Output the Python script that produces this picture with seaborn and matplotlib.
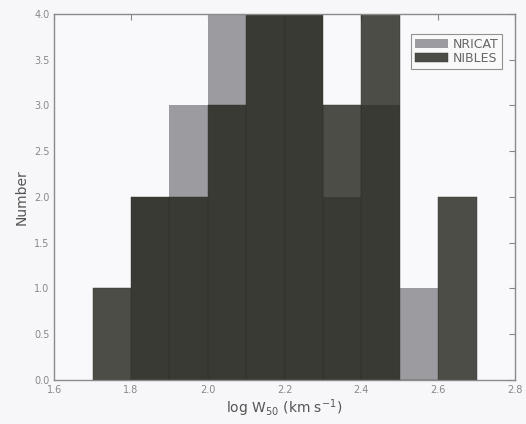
import numpy as np
import pandas as pd
import matplotlib
matplotlib.use("Agg")
import matplotlib.pyplot as plt
import seaborn as sns

# Data (bin centres of log W50 and counts per bin)
bin_edges = [1.7, 1.8, 1.9, 2.0, 2.1, 2.2, 2.3, 2.4, 2.5, 2.6, 2.7]
bin_centres = [1.75, 1.85, 1.95, 2.05, 2.15, 2.25, 2.35, 2.45, 2.55, 2.65]
nricat_counts = [0, 2, 3, 4, 4, 4, 2, 3, 1, 0]
nibles_counts = [1, 2, 2, 3, 4, 4, 3, 4, 0, 2]
series_names = ["NRICAT", "NIBLES"]
x_ticks = [1.6, 1.8, 2.0, 2.2, 2.4, 2.6, 2.8]
x_tick_labels = ["1.6", "1.8", "2.0", "2.2", "2.4", "2.6", "2.8"]
y_ticks = [0.0, 0.5, 1.0, 1.5, 2.0, 2.5, 3.0, 3.5, 4.0]
y_tick_labels = ["0.0", "0.5", "1.0", "1.5", "2.0", "2.5", "3.0", "3.5", "4.0"]

sns.set_style("white")
plt.rcParams['font.family'] = ['DejaVu Sans']

fig = plt.figure(figsize=(5.26, 4.24), dpi=100)
fig.patch.set_facecolor("#f7f7f9")
ax = fig.add_axes([0.103, 0.104, 0.876, 0.863])
ax.set_facecolor("#f9f9fb")

sns.histplot(x=bin_centres, weights=nricat_counts, bins=bin_edges, ax=ax,
             color="#9b9ba0", alpha=1.0, edgecolor="none", linewidth=0,
             label=series_names[0], element="bars")
sns.histplot(x=bin_centres, weights=nibles_counts, bins=bin_edges, ax=ax,
             color="#22221a", alpha=0.8, edgecolor="#33332e", linewidth=0.3,
             label=series_names[1], element="bars")

ax.set_xlim(1.6, 2.8)
ax.set_ylim(0, 4.0)
ax.set_xticks(x_ticks)
ax.set_xticklabels(x_tick_labels)
ax.set_yticks(y_ticks)
ax.set_yticklabels(y_tick_labels)
ax.tick_params(direction="in", length=4, width=0.8, colors="#888888",
               labelcolor="#888888", labelsize=7, top=True, right=True)
for s in ax.spines.values():
    s.set_color("#8a8a8a")
    s.set_linewidth(1.0)

ax.set_xlabel("log W$_{50}$ (km s$^{-1}$)", fontsize=10, color="#555555", labelpad=2)
ax.set_ylabel("Number", fontsize=10, color="#555555", labelpad=4)

leg = ax.legend(loc="upper right", bbox_to_anchor=(0.972, 0.945), fontsize=9,
                frameon=True, fancybox=False, borderpad=0.3, handlelength=2.6,
                handletextpad=0.4, labelspacing=0.1, borderaxespad=0)
leg.get_frame().set_edgecolor("#777777")
leg.get_frame().set_linewidth(0.8)
leg.get_frame().set_facecolor("#fafafa")
for t in leg.get_texts():
    t.set_color("#666666")

fig.savefig("out.png", dpi=100, facecolor=fig.get_facecolor())
